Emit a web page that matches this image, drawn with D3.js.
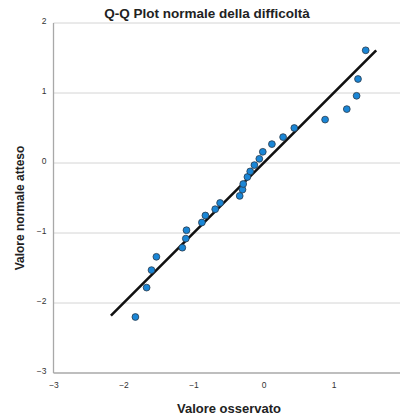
<!DOCTYPE html>
<html><head><meta charset="utf-8">
<script src="https://cdn.jsdelivr.net/npm/d3@7"></script>
<style>body{margin:0;background:#fff;} svg{display:block;}</style>
</head><body>
<script>
const title = "Q-Q Plot normale della difficoltà";
const xLabel = "Valore osservato";
const yLabel = "Valore normale atteso";
const xTicks = [-3, -2, -1, 0, 1];
const yTicks = [-3, -2, -1, 0, 1, 2];
const observed = [-1.83, -1.67, -1.60, -1.53, -1.16, -1.11, -1.10, -0.88, -0.83, -0.69, -0.62, -0.34, -0.30, -0.29, -0.23, -0.19, -0.13, -0.06, -0.01, 0.12, 0.28, 0.44, 0.88, 1.19, 1.33, 1.35, 1.46];
const expected = [-2.20, -1.78, -1.53, -1.34, -1.21, -1.08, -0.96, -0.85, -0.75, -0.66, -0.57, -0.47, -0.38, -0.30, -0.20, -0.12, -0.03, 0.06, 0.16, 0.27, 0.37, 0.50, 0.62, 0.77, 0.96, 1.20, 1.61];
const refLine = [-2.18, 1.61];

const W = 400, H = 418;
const svg = d3.select("body").append("svg").attr("width", W).attr("height", H)
  .style("font-family", "'Liberation Sans', Arial, sans-serif");

const x = d3.scaleLinear().domain([-3, 2]).range([53.5, 403.5]);
const y = d3.scaleLinear().domain([-3, 2]).range([373, 23]);

// grid
svg.append("g").selectAll("line").data(yTicks.filter(d => d > -3)).join("line")
  .attr("x1", x(-3)).attr("x2", W).attr("y1", d => y(d)).attr("y2", d => y(d))
  .attr("stroke", "#d4d4d4").attr("stroke-width", 1);

// axes
const yAxis = d3.axisLeft(y).tickValues(yTicks).tickSize(0).tickFormat(d3.format("d"));
const gy = svg.append("g").attr("transform", `translate(${x(-3)},0)`).call(yAxis);
const xAxis = d3.axisBottom(x).tickValues(xTicks).tickSize(0).tickFormat(d3.format("d"));
const gx = svg.append("g").attr("transform", `translate(0,${y(-3)})`).call(xAxis);
[gx, gy].forEach(g => {
  g.select(".domain").attr("stroke", "#a8a8a8").attr("stroke-width", 1.3);
  g.selectAll("text").attr("fill", "#333").style("font-size", "8.5px").style("font-family", "'Liberation Sans', Arial, sans-serif");
});
gx.select(".domain").attr("d", `M${x(-3)},0H${W}`);
gx.selectAll("text").attr("dy", "1.45em");
gy.select(".domain").attr("d", `M0,${y(2)}V${y(-3)}`);
gy.selectAll("text").attr("x", -7).attr("dy", "0.1em");

// reference line
svg.append("line")
  .attr("x1", x(refLine[0])).attr("y1", y(refLine[0]))
  .attr("x2", x(refLine[1])).attr("y2", y(refLine[1]))
  .attr("stroke", "#111").attr("stroke-width", 2.6);

// points
const pts = observed.map((v, i) => ({x: v, y: expected[i]}));
svg.append("g").selectAll("circle").data(pts).join("circle")
  .attr("cx", d => x(d.x)).attr("cy", d => y(d.y)).attr("r", 3.4)
  .attr("fill", "#1a86d6").attr("stroke", "#2a3a4a").attr("stroke-width", 0.8);

// titles
svg.append("text").attr("x", 207).attr("y", 18).attr("text-anchor", "middle")
  .style("font-weight", "bold").style("font-size", "13.5px").attr("fill", "#222").text(title);
svg.append("text").attr("x", 229).attr("y", 413).attr("text-anchor", "middle")
  .style("font-weight", "bold").style("font-size", "13px").attr("fill", "#222").text(xLabel);
svg.append("text").attr("transform", "translate(24,208) rotate(-90)").attr("text-anchor", "middle")
  .style("font-weight", "bold").style("font-size", "12px").attr("fill", "#222").text(yLabel);
</script>
</body></html>
